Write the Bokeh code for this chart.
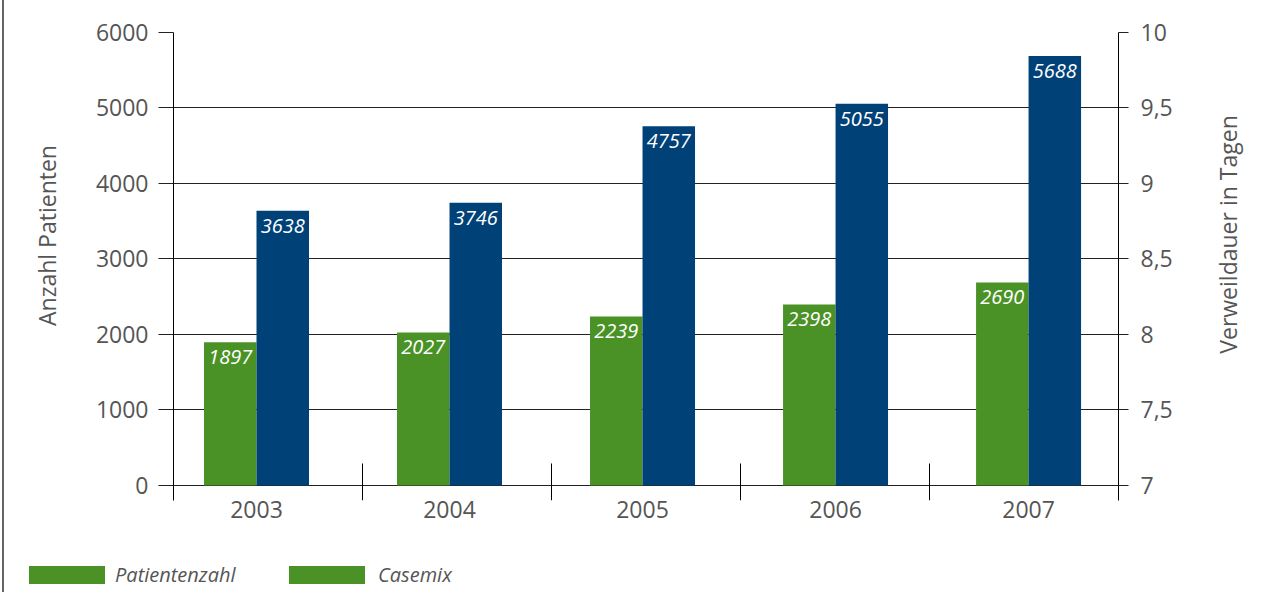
import math
import numpy as np
from bokeh.plotting import figure
from bokeh.layouts import column, row
from bokeh.models import (ColumnDataSource, Range1d, LinearAxis, FixedTicker, Div,
                          CustomJSTickFormatter)
from bokeh.transform import dodge
from bokeh.embed import file_html
from bokeh.resources import INLINE
from bokeh.core.properties import value

# ---------------- data ----------------
years = ["2003", "2004", "2005", "2006", "2007"]
patientenzahl = [1897, 2027, 2239, 2398, 2690]
casemix = [3638, 3746, 4757, 5055, 5688]
left_ticks = [0, 1000, 2000, 3000, 4000, 5000, 6000]
right_ticks = [7, 7.5, 8, 8.5, 9, 9.5, 10]
series_names = ["Patientenzahl", "Casemix"]
left_title = "Anzahl Patienten"
right_title = "Verweildauer in Tagen"

# ---------------- style ----------------
GREEN = "#4A9226"
BLUE = "#004177"
TXT = "#555555"
LINE = "#222222"
FONT = "Open Sans"

SHIFT = 4                      # 2px margin + 2px left border line
H1, H2 = 540, 52
LT_W, P_W, RT_W = 60, 1131, 65
P_X = SHIFT + LT_W             # page x of main figure
FRAME_T, FRAME_B = 32, 500
frame_h = FRAME_B - FRAME_T
MB_L = 173 - P_X
MB_R = (P_X + P_W) - 1118

y_start, y_end = -199, 6000
r_start = right_ticks[0] + y_start * (right_ticks[-1] - right_ticks[0]) / (left_ticks[-1] - left_ticks[0])
x_start, x_end = -0.430, 4.466
off, bw = 0.136, 0.272

p = figure(width=P_W, height=H1, output_backend="svg", toolbar_location=None,
           x_range=Range1d(x_start, x_end), y_range=Range1d(y_start, y_end),
           min_border_left=MB_L, min_border_right=MB_R,
           min_border_top=FRAME_T, min_border_bottom=H1 - FRAME_B,
           outline_line_color=None, background_fill_color="white",
           border_fill_color="white")

# grid
p.xgrid.grid_line_color = None
p.ygrid.ticker = FixedTicker(ticks=left_ticks)
p.ygrid.grid_line_color = LINE
p.ygrid.grid_line_width = 1

# left axis
ya = p.yaxis[0]
ya.ticker = FixedTicker(ticks=left_ticks)
ya.axis_line_color = "black"
ya.major_tick_line_color = LINE
ya.major_tick_out = 15
ya.major_tick_in = 0
ya.minor_tick_line_color = None
ya.major_label_standoff = 10
ya.major_label_text_font = FONT
ya.major_label_text_font_size = "23px"
ya.major_label_text_color = TXT

# right axis
p.extra_y_ranges = {"vd": Range1d(r_start, right_ticks[-1])}
ra = LinearAxis(y_range_name="vd", ticker=FixedTicker(ticks=right_ticks),
                formatter=CustomJSTickFormatter(code="return String(tick).replace('.', ',')"))
ra.axis_line_color = "black"
ra.major_tick_line_color = LINE
ra.major_tick_out = 10
ra.major_tick_in = 0
ra.minor_tick_line_color = None
ra.major_label_standoff = 12
ra.major_label_text_font = FONT
ra.major_label_text_font_size = "23px"
ra.major_label_text_color = TXT
p.add_layout(ra, "right")

# x axis (year labels)
xa = p.xaxis[0]
xa.ticker = FixedTicker(ticks=list(range(len(years))))
xa.formatter = CustomJSTickFormatter(args=dict(labels=years),
                                     code="return labels[Math.round(tick)] || ''")
xa.axis_line_color = None
xa.major_tick_line_color = None
xa.minor_tick_line_color = None
xa.major_tick_out = 0
xa.major_tick_in = 0
xa.major_label_standoff = 0
xa.major_label_text_font = FONT
xa.major_label_text_font_size = "23px"
xa.major_label_text_color = TXT

# category separator ticks
px_per_unit = frame_h / (y_end - y_start)
sep_x = np.linspace(x_start, x_end, len(years) + 1)[1:-1]
p.segment(x0=sep_x, y0=[y_start] * len(sep_x), x1=sep_x, y1=[22 / px_per_unit] * len(sep_x),
          line_color="black", line_width=1)

# bars
src = ColumnDataSource(dict(
    x=list(range(len(years))), pat=patientenzahl, cm=casemix,
    pat_lbl=[str(v) for v in patientenzahl], cm_lbl=[str(v) for v in casemix]))

p.vbar(x=dodge("x", -off, range=p.x_range), top="pat", width=bw, bottom=0,
       fill_color=GREEN, line_color=None, source=src)
p.vbar(x=dodge("x", off, range=p.x_range), top="cm", width=bw, bottom=0,
       fill_color=BLUE, line_color=None, source=src)

for col, lbl, dx in (("pat", "pat_lbl", -off), ("cm", "cm_lbl", off)):
    p.text(x=dodge("x", dx, range=p.x_range), y=col, text=lbl, source=src,
           text_align="center", text_baseline="middle", y_offset=15,
           text_color="white", text_font=value(FONT), text_font_style="italic",
           text_font_size="20px")


# ---------------- axis titles (reading bottom to top, as in the original) ----------------
def title_strip(width, text, cx, cy):
    f = figure(width=width, height=H1, output_backend="svg", toolbar_location=None,
               x_range=Range1d(0, width), y_range=Range1d(0, frame_h),
               x_axis_location=None, y_axis_location=None,
               min_border_left=0, min_border_right=0,
               min_border_top=FRAME_T, min_border_bottom=H1 - FRAME_B,
               outline_line_color=None, background_fill_color="white",
               border_fill_color="white")
    f.xgrid.visible = False
    f.ygrid.visible = False
    f.text(x=[cx], y=[cy], text=[text], angle=math.pi / 2,
           text_align="center", text_baseline="middle",
           text_color=TXT, text_font=value(FONT), text_font_size="23px")
    return f


lt = title_strip(LT_W, left_title, 46 - SHIFT, FRAME_B - 235)
rt = title_strip(RT_W, right_title, 1227 - (P_X + P_W), FRAME_B - 234)

# ---------------- legend strip (both entries green, as in the original) ----------------
sw_x = [29 - SHIFT, 289 - SHIFT]
tx_x = [115 - SHIFT, 378 - SHIFT]
parts = []
for name, sx, tx in zip(series_names, sw_x, tx_x):
    parts.append(f'<span style="position:absolute;left:{sx}px;top:26px;width:76px;'
                 f'height:18px;background:{GREEN};"></span>')
    parts.append(f'<span style="position:absolute;left:{tx}px;top:24px;line-height:22px;'
                 f'white-space:nowrap;">{name}</span>')
legend_html = (f'<div style="position:relative;width:{LT_W + P_W + RT_W}px;height:{H2}px;'
               f'font-family:\'{FONT}\';font-style:italic;font-size:20px;color:{TXT};">'
               + "".join(parts) + "</div>")
leg = Div(text=legend_html, width=LT_W + P_W + RT_W, height=H2, margin=0)

layout = column(row(lt, p, rt, spacing=0), leg, spacing=0,
                styles={"border-left": "2px solid #666666", "margin-left": "2px"})

open("out.html", "w").write(file_html(layout, INLINE))
